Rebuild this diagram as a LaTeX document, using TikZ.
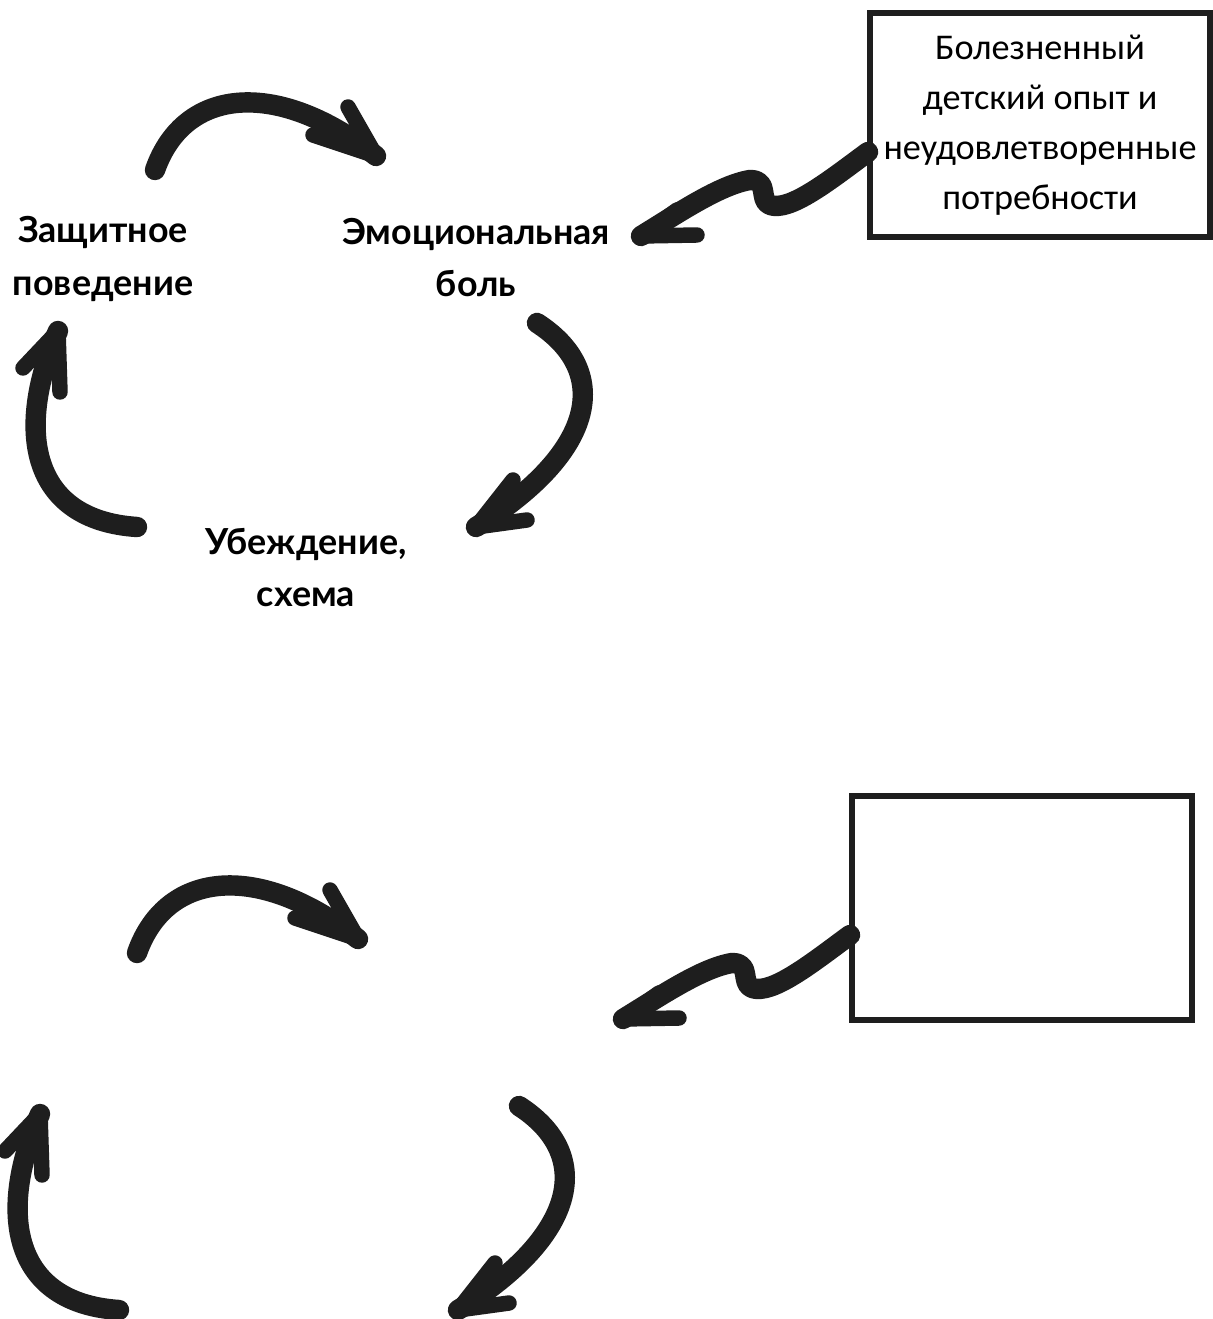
\documentclass[tikz,border=0pt]{standalone}
\usepackage{fontspec}
\newfontfamily\labfont{Lato}
\newfontfamily\boxfont{Carlito}
\definecolor{ink}{RGB}{30,30,30}
\begin{document}
\begin{tikzpicture}[x=0.01cm,y=-0.01cm,
  shaft/.style={draw=ink,line width=5.8pt,line cap=round,line join=round},
  barb/.style={draw=ink,line width=4.4pt,line cap=round},
  lab/.style={font=\labfont\bfseries\fontsize{10.2}{14.8}\selectfont,align=center,text=black,inner sep=0pt},
  srcbox/.style={draw=ink,line width=1.6pt,minimum width=3.4cm,minimum height=2.24cm,inner sep=0pt,
     font=\boxfont\fontsize{10.3}{14.2}\selectfont,align=center}]
\useasboundingbox[fill=white] (0,0) rectangle (1213,1319);

\newcommand\cyclearrows{%
  % top arc arrow
  \coordinate (a1s) at (155,170); \coordinate (a1t) at (376,156);
  \draw[shaft] (a1s) .. controls (185,85) and (280,80) .. (a1t);
  \draw[barb] (a1t) -- (313,135); \draw[barb] (a1t) -- (348,107);
  % zigzag arrow from box
  \coordinate (zs) at (868,152); \coordinate (zt) at (641,236);
  \draw[shaft] (zs) .. controls (830,180) and (790,212) .. (770,205)
     .. controls (758,200) and (770,180) .. (750,180)
     .. controls (720,185) and (680,212) .. (zt);
  \draw[barb] (zt) -- (677,210); \draw[barb] (zt) -- (697,235);
  % right arrow
  \coordinate (rs) at (537,323); \coordinate (rt) at (476,527);
  \draw[shaft] (rs) .. controls (610,370) and (600,450) .. (rt);
  \draw[barb] (rt) -- (513,480); \draw[barb] (rt) -- (527,520);
  % left arrow
  \coordinate (ls) at (137,527); \coordinate (lt) at (58,331);
  \draw[shaft] (ls) .. controls (30,520) and (15,430) .. (lt);
  \draw[barb] (lt) -- (23,368); \draw[barb] (lt) -- (60,392);
}

\begin{scope}[name prefix=top-]
  \cyclearrows
  \node[srcbox] (box) at (1040,125) {Болезненный\\детский опыт и\\неудовлетворенные\\потребности};
  \node[lab] (def) at (103,259) {Защитное\\поведение};
  \node[lab] (pain) at (476,258) {Эмоциональная\\боль};
  \node[lab] (bel) at (306,568) {Убеждение,\\схема};
\end{scope}

\begin{scope}[shift={(-18,783)},name prefix=bot-]
  \cyclearrows
  \node[srcbox] (box) at (1040,125) {};
\end{scope}
\end{tikzpicture}
\end{document}
